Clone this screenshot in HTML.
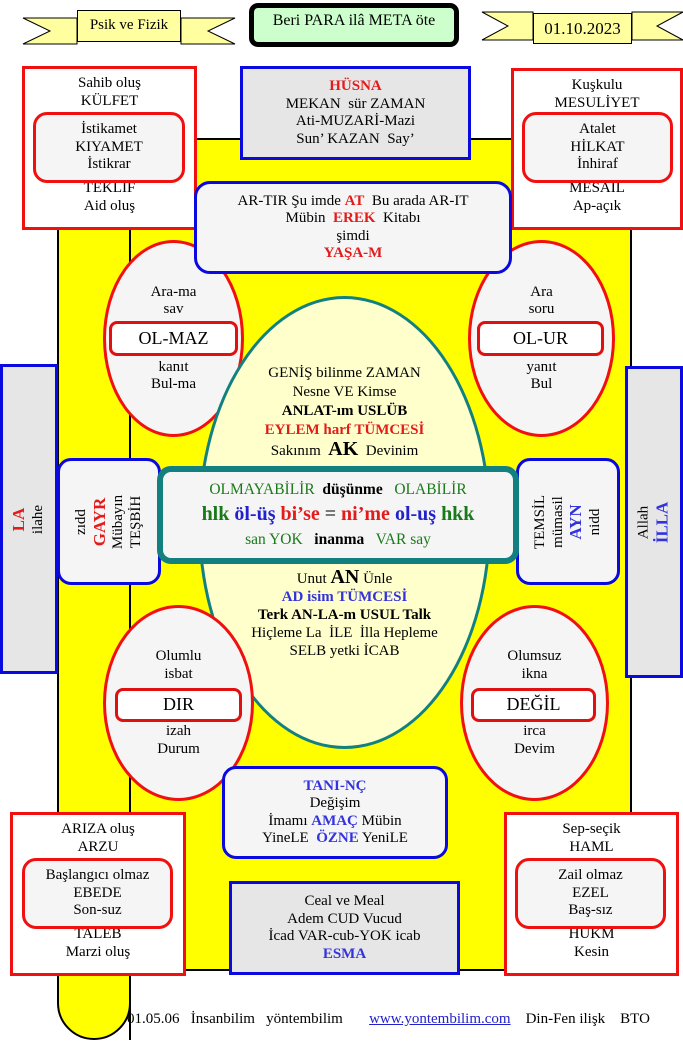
<!DOCTYPE html>
<html><head><meta charset="utf-8"><style>
*{margin:0;padding:0;box-sizing:border-box}
body{width:683px;height:1042px;background:#fff;position:relative;overflow:hidden;font-family:"Liberation Serif",serif;font-size:15px;color:#000}
.a{position:absolute}
.c{display:flex;flex-direction:column;align-items:center;justify-content:center;text-align:center;line-height:17.5px}
.r{color:#e31b1b;font-weight:bold}
.b{color:#3333dd;font-weight:bold}
.g{color:#1a7a1a}
.rbox{border:3px solid #f01010;background:#fff}
.inner{border:3px solid #f01010;border-radius:14px;background:#f5f5f5}
.blue{border:3px solid #0a0ae0;background:#f5f5f5}
.oval{border:3px solid #f01010;border-radius:50%;background:#f5f5f5}
.pill{border:3px solid #e01010;border-radius:8px;background:#fff;font-size:18px}
.rot{transform:rotate(-90deg);white-space:nowrap}
</style></head><body>
<div class="a" style="left:57px;top:138px;width:74px;height:902px;background:#ffff00;border:2px solid #000;border-radius:0 0 37px 37px"></div>
<div class="a" style="left:57px;top:138px;width:575px;height:833px;background:#ffff00;border:2px solid #000"></div>
<div class="a" style="left:129px;top:230px;width:2px;height:810px;background:#000"></div>

<svg class="a" style="left:0;top:0" width="683" height="60">
<polygon points="23,18 77,18 77,44 23,44 50,31" fill="#ffffa0" stroke="#000"/>
<polygon points="235,18 181,18 181,44 235,44 208,31" fill="#ffffa0" stroke="#000"/>
<polygon points="482,12 533,12 533,40 482,40 508,26" fill="#ffffa0" stroke="#000"/>
<polygon points="683,12 632,12 632,40 683,40 657,26" fill="#ffffa0" stroke="#000"/>
</svg>
<div class="a c" style="left:77px;top:10px;width:104px;height:32px;background:#ffffa0;border:1px solid #000;font-size:15px">Psik ve Fizik</div>
<div class="a c" style="left:533px;top:13px;width:99px;height:31px;background:#ffffa0;border:1px solid #000;font-size:17px">01.10.2023</div>
<div class="a c" style="left:249px;top:3px;width:210px;height:44px;background:#ccffcc;border:5px solid #000;border-radius:9px;font-size:16px;justify-content:flex-start;padding-top:4px">Beri PARA ilâ META öte</div>

<div class="a c rbox" style="left:22px;top:66px;width:175px;height:164px;justify-content:space-between;padding:6px 0 12px"><div>Sahib oluş<br>KÜLFET</div><div>TEKLİF<br>Aid oluş</div></div>
<div class="a c inner" style="left:33px;top:112px;width:152px;height:71px"><div>İstikamet<br>KIYAMET<br>İstikrar</div></div>
<div class="a c rbox" style="left:511px;top:68px;width:172px;height:162px;justify-content:space-between;padding:6px 0 12px"><div>Kuşkulu<br>MESULİYET</div><div>MESAİL<br>Ap-açık</div></div>
<div class="a c inner" style="left:522px;top:112px;width:151px;height:71px"><div>Atalet<br>HİLKAT<br>İnhiraf</div></div>

<div class="a c blue" style="left:240px;top:66px;width:231px;height:94px;background:#e6e6e6"><div><span class="r">HÜSNA</span><br>MEKAN&nbsp; sür ZAMAN<br>Ati-MUZARİ-Mazi<br>Sun’ KAZAN&nbsp; Say’</div></div>

<div class="a c oval" style="left:103px;top:240px;width:141px;height:197px"><div>Ara-ma<br>sav</div><div style="height:40px"></div><div>kanıt<br>Bul-ma</div></div>
<div class="a c pill" style="left:109px;top:321px;width:129px;height:35px">OL-MAZ</div>
<div class="a c oval" style="left:468px;top:240px;width:147px;height:197px"><div>Ara<br>soru</div><div style="height:40px"></div><div>yanıt<br>Bul</div></div>
<div class="a c pill" style="left:477px;top:321px;width:127px;height:35px">OL-UR</div>

<div class="a c blue" style="left:194px;top:181px;width:318px;height:93px;border-radius:16px"><div style="white-space:nowrap">AR-TIR Şu imde <span class="r">AT</span>&nbsp; Bu arada AR-IT<br>Mübin&nbsp; <span class="r">EREK</span>&nbsp; Kitabı<br>şimdi<br><span class="r">YAŞA-M</span></div></div>

<div class="a" style="left:198px;top:296px;width:293px;height:453px;border:3px solid #138080;border-radius:50%;background:#ffffcc"></div>
<div class="a c" style="left:198px;top:364px;width:293px;line-height:19px"><div>GENİŞ bilinme ZAMAN<br>Nesne VE Kimse<br><b>ANLAT-ım USLÜB</b><br><span class="r">EYLEM harf TÜMCESİ</span><br>Sakınım&nbsp; <b style="font-size:20px">AK</b>&nbsp; Devinim</div></div>
<div class="a c" style="left:198px;top:568px;width:293px;line-height:18px"><div>Unut <b style="font-size:20px">AN</b> Ünle<br><span class="b">AD isim TÜMCESİ</span><br><b>Terk AN-LA-m USUL Talk</b><br>Hiçleme La&nbsp; İLE&nbsp; İlla Hepleme<br>SELB yetki İCAB</div></div>

<div class="a c blue" style="left:0;top:364px;width:58px;height:310px;background:#e6e6e6"><div class="rot"><span class="r" style="font-size:17px">LA</span><br>ilahe</div></div>
<div class="a c blue" style="left:625px;top:366px;width:58px;height:312px;background:#e6e6e6"><div class="rot">Allah<br><span class="b" style="font-size:17px">İLLA</span></div></div>
<div class="a c blue" style="left:57px;top:458px;width:104px;height:127px;border-radius:14px"><div class="rot">zıdd<br><span class="r" style="font-size:17px">GAYR</span><br>Mübayın<br>TEŞBİH</div></div>
<div class="a c blue" style="left:516px;top:458px;width:104px;height:127px;border-radius:14px"><div class="rot">TEMSİL<br>mümasil<br><span class="b" style="font-size:17px">AYN</span><br>nidd</div></div>

<div class="a c" style="left:157px;top:466px;width:362px;height:98px;border:6px solid #138080;border-radius:14px;background:#f5f5f5;line-height:24px"><div style="white-space:nowrap"><span style="font-size:15.5px"><span class="g">OLMAYABİLİR</span>&nbsp; <b>düşünme</b>&nbsp;&nbsp; <span class="g">OLABİLİR</span></span><br><b style="font-size:20px"><span class="g">hlk</span> <span style="color:#2222cc">öl-üş</span> <span style="color:#e31b1b">bi’se</span> <span style="font-weight:normal">=</span> <span style="color:#e31b1b">ni’me</span> <span style="color:#2222cc">ol-uş</span> <span class="g">hkk</span></b><br><span style="font-size:15.5px"><span class="g">san YOK</span>&nbsp;&nbsp; <b>inanma</b>&nbsp;&nbsp; <span class="g">VAR say</span></span></div></div>

<div class="a c oval" style="left:103px;top:605px;width:151px;height:196px"><div>Olumlu<br>isbat</div><div style="height:40px"></div><div>izah<br>Durum</div></div>
<div class="a c pill" style="left:115px;top:688px;width:127px;height:34px">DIR</div>
<div class="a c oval" style="left:460px;top:605px;width:149px;height:196px"><div>Olumsuz<br>ikna</div><div style="height:40px"></div><div>irca<br>Devim</div></div>
<div class="a c pill" style="left:471px;top:688px;width:125px;height:34px">DEĞİL</div>

<div class="a c blue" style="left:222px;top:766px;width:226px;height:93px;border-radius:14px"><div style="white-space:nowrap"><span class="b">TANI-NÇ</span><br>Değişim<br>İmamı <span class="b">AMAÇ</span> Mübin<br>YineLE&nbsp; <span class="b">ÖZNE</span> YeniLE</div></div>

<div class="a c rbox" style="left:10px;top:812px;width:176px;height:164px;justify-content:space-between;padding:6px 0 12px"><div>ARIZA oluş<br>ARZU</div><div>TALEB<br>Marzi oluş</div></div>
<div class="a c inner" style="left:22px;top:858px;width:151px;height:71px"><div>Başlangıcı olmaz<br>EBEDE<br>Son-suz</div></div>
<div class="a c rbox" style="left:504px;top:812px;width:175px;height:164px;justify-content:space-between;padding:6px 0 12px"><div>Sep-seçik<br>HAML</div><div>HÜKM<br>Kesin</div></div>
<div class="a c inner" style="left:515px;top:858px;width:151px;height:71px"><div>Zail olmaz<br>EZEL<br>Baş-sız</div></div>

<div class="a c blue" style="left:229px;top:881px;width:231px;height:94px;background:#e6e6e6"><div style="white-space:nowrap">Ceal ve Meal<br>Adem CUD Vucud<br>İcad VAR-cub-YOK icab<br><span class="b">ESMA</span></div></div>

<div class="a" style="left:127px;top:1011px;white-space:nowrap;font-size:15px">01.05.06&nbsp;&nbsp; İnsanbilim&nbsp;&nbsp; yöntembilim&nbsp;&nbsp;&nbsp;&nbsp;&nbsp;&nbsp; <span style="color:#2222cc;text-decoration:underline">www.yontembilim.com</span>&nbsp;&nbsp;&nbsp; Din-Fen ilişk&nbsp;&nbsp;&nbsp; BTO</div>
</body></html>
